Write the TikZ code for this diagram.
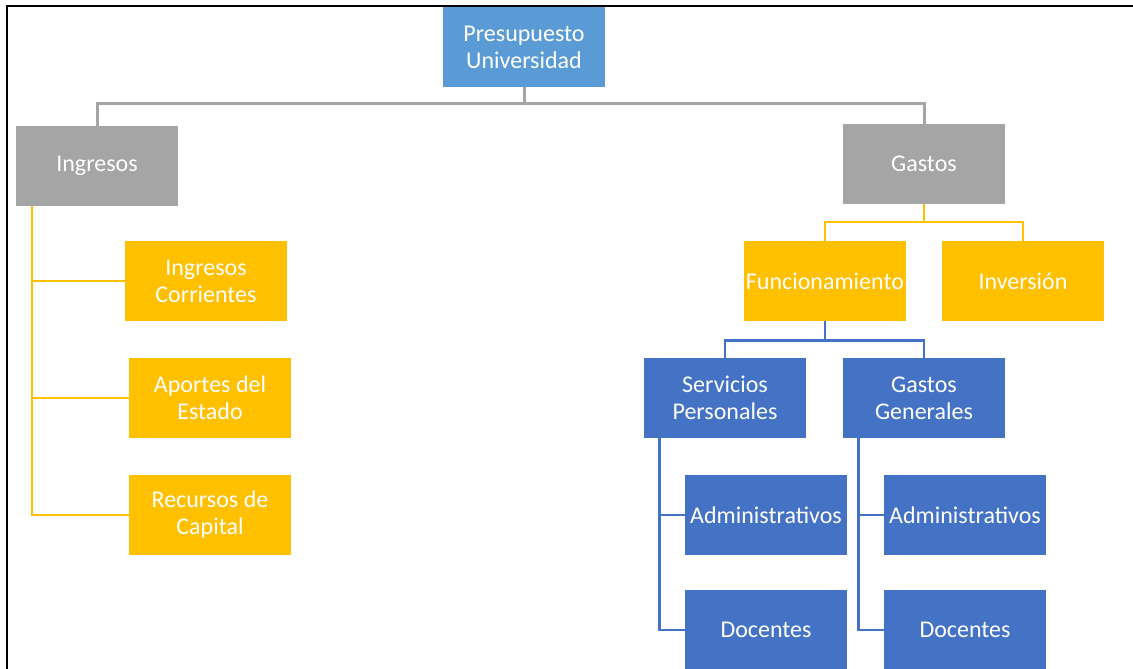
\documentclass[tikz,border=0pt]{standalone}
\usepackage{fontspec}
\setmainfont{Carlito}
\usetikzlibrary{positioning}

\definecolor{topblue}{HTML}{5B9BD5}
\definecolor{boxgray}{HTML}{A5A5A5}
\definecolor{boxgold}{HTML}{FFC000}
\definecolor{boxblue}{HTML}{4472C4}

\begin{document}
\begin{tikzpicture}[x=1pt,y=-1pt]
          \tikzset{Box/.style = {minimum width=162pt, minimum height=80pt, inner sep=1pt,
                     align=center, text=white, font=\fontsize{24}{27}\selectfont}}
          \tikzset{TopBox/.style = {Box, fill=topblue}}
          \tikzset{GrayBox/.style = {Box, fill=boxgray}}
          \tikzset{GoldBox/.style = {Box, fill=boxgold}}
          \tikzset{BlueBox/.style = {Box, fill=boxblue}}
          \tikzset{GrayEdge/.style = {draw=boxgray, line width=3pt}}
          \tikzset{GoldEdge/.style = {draw=boxgold, line width=2.2pt}}
          \tikzset{BlueEdge/.style = {draw=boxblue, line width=2.8pt}}

          \useasboundingbox (0,0) rectangle (1133,669);
          \draw[line width=2pt] (7,669) -- (7,6) -- (1133,6);

          \node[TopBox] (Pres) at (524,47) {Presupuesto\\Universidad};
          \node[GrayBox] (Ingr) at (97,166) {Ingresos};
          \node[GrayBox] (Gast) at (924,164) {Gastos};

          \node[GoldBox] (ICor) at (206,281) {Ingresos\\Corrientes};
          \node[GoldBox] (Apor) at (210,398) {Aportes del\\Estado};
          \node[GoldBox] (RCap) at (210,515) {Recursos de\\Capital};

          \node[GoldBox] (Func) at (825,281) {Funcionamiento};
          \node[GoldBox] (Inv) at (1023,281) {Inversión};

          \node[BlueBox] (Serv) at (725,398) {Servicios\\Personales};
          \node[BlueBox] (GGen) at (924,398) {Gastos\\Generales};
          \node[BlueBox] (AdmS) at (766,515) {Administrativos};
          \node[BlueBox] (DocS) at (766,630) {Docentes};
          \node[BlueBox] (AdmG) at (965,515) {Administrativos};
          \node[BlueBox] (DocG) at (965,630) {Docentes};

          % top level
          \draw[GrayEdge] (Pres.south) -- ++(0,16) -| (Ingr.north);
          \draw[GrayEdge] (Pres.south) -- ++(0,16) -| (Gast.north);

          % ingresos
          \coordinate (IngrBus) at ([xshift=16pt]Ingr.south west);
          \draw[GoldEdge] (IngrBus) |- (ICor.west);
          \draw[GoldEdge] (IngrBus) |- (Apor.west);
          \draw[GoldEdge] (IngrBus) |- (RCap.west);

          % gastos
          \draw[GoldEdge] (Gast.south) -- ++(0,18) -| (Func.north);
          \draw[GoldEdge] (Gast.south) -- ++(0,18) -| (Inv.north);
          \draw[BlueEdge] (Func.south) -- ++(0,19) -| (Serv.north);
          \draw[BlueEdge] (Func.south) -- ++(0,19) -| (GGen.north);

          \coordinate (ServBus) at ([xshift=16pt]Serv.south west);
          \draw[BlueEdge] (ServBus) |- (AdmS.west);
          \draw[BlueEdge] (ServBus) |- (DocS.west);
          \coordinate (GGenBus) at ([xshift=16pt]GGen.south west);
          \draw[BlueEdge] (GGenBus) |- (AdmG.west);
          \draw[BlueEdge] (GGenBus) |- (DocG.west);
        \end{tikzpicture}
\end{document}
